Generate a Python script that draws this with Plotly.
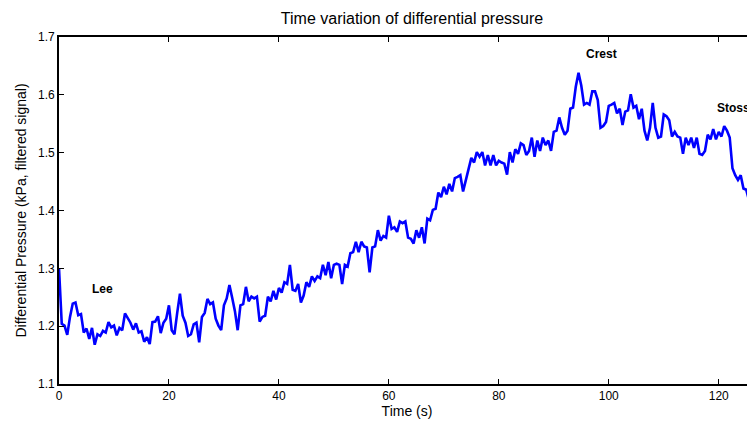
import plotly.graph_objects as go

# Differential pressure (kPa), sampled every 0.5 s starting at t = 0 s
t_start = 0.0
t_step = 0.5
pressure = [
    1.300, 1.204, 1.201, 1.185, 1.216, 1.239, 1.241, 1.219, 1.221, 1.189,
    1.196, 1.178, 1.197, 1.168, 1.186, 1.183, 1.192, 1.189, 1.207, 1.198,
    1.201, 1.184, 1.197, 1.193, 1.222, 1.213, 1.206, 1.194, 1.205, 1.189,
    1.191, 1.173, 1.181, 1.169, 1.207, 1.208, 1.217, 1.188, 1.206, 1.213,
    1.236, 1.193, 1.186, 1.223, 1.256, 1.218, 1.206, 1.183, 1.186, 1.203,
    1.206, 1.172, 1.216, 1.223, 1.247, 1.238, 1.241, 1.213, 1.201, 1.193,
    1.236, 1.248, 1.271, 1.249, 1.226, 1.193, 1.236, 1.238, 1.268, 1.243,
    1.251, 1.248, 1.251, 1.208, 1.216, 1.218, 1.251, 1.243, 1.261, 1.246,
    1.266, 1.258, 1.276, 1.273, 1.306, 1.263, 1.261, 1.273, 1.241, 1.253,
    1.276, 1.268, 1.286, 1.278, 1.286, 1.283, 1.306, 1.288, 1.311, 1.283,
    1.306, 1.308, 1.306, 1.273, 1.306, 1.303, 1.326, 1.328, 1.346, 1.328,
    1.346, 1.338, 1.336, 1.293, 1.336, 1.338, 1.366, 1.348, 1.356, 1.353,
    1.391, 1.368, 1.371, 1.363, 1.381, 1.378, 1.381, 1.353, 1.351, 1.343,
    1.366, 1.353, 1.371, 1.343, 1.386, 1.383, 1.401, 1.403, 1.431, 1.423,
    1.441, 1.428, 1.446, 1.433, 1.456, 1.458, 1.461, 1.433, 1.451, 1.468,
    1.491, 1.483, 1.501, 1.493, 1.501, 1.478, 1.496, 1.478, 1.496, 1.478,
    1.486, 1.483, 1.481, 1.462, 1.501, 1.483, 1.506, 1.498, 1.516, 1.513,
    1.496, 1.503, 1.526, 1.493, 1.521, 1.503, 1.526, 1.513, 1.521, 1.503,
    1.536, 1.538, 1.561, 1.543, 1.531, 1.538, 1.576, 1.578, 1.614, 1.638,
    1.616, 1.583, 1.586, 1.583, 1.606, 1.606, 1.591, 1.543, 1.546, 1.553,
    1.581, 1.583, 1.586, 1.568, 1.576, 1.548, 1.571, 1.573, 1.601, 1.578,
    1.581, 1.558, 1.576, 1.538, 1.521, 1.543, 1.586, 1.543, 1.526, 1.528,
    1.566, 1.563, 1.556, 1.528, 1.536, 1.528, 1.526, 1.498, 1.526, 1.513,
    1.526, 1.508, 1.526, 1.498, 1.496, 1.503, 1.531, 1.523, 1.541, 1.523,
    1.536, 1.528, 1.546, 1.538, 1.526, 1.473, 1.461, 1.453, 1.461, 1.438,
    1.436, 1.418, 1.426, 1.408,
]

label_texts = ["Lee", "Crest", "Stoss"]
label_times = [7.9, 98.6, 122.7]
label_values = [1.264, 1.670, 1.578]

x_ticks = [0, 20, 40, 60, 80, 100, 120]
y_ticks = [1.1, 1.2, 1.3, 1.4, 1.5, 1.6, 1.7]

FONT = "Liberation Sans, Arial, Helvetica, sans-serif"

# the page body adds an 8 px offset; the figure is sized to fill the rest
W, H = 747, 416

fig = go.Figure()
fig.add_trace(go.Scatter(
    x0=t_start, dx=t_step, y=pressure,
    mode="lines",
    line=dict(color="#0000FF", width=2.6),
    showlegend=False,
    hoverinfo="skip",
))

for txt, tx, ty in zip(label_texts, label_times, label_values):
    fig.add_annotation(
        x=tx, y=ty, xref="x", yref="y", text="<b>" + txt + "</b>",
        showarrow=False, font=dict(family=FONT, size=12, color="#000000"),
        xanchor="center", yanchor="middle",
    )

fig.update_layout(
    width=W, height=H,
    margin=dict(l=51, r=0, t=29, b=40),
    paper_bgcolor="white", plot_bgcolor="white",
    font=dict(family=FONT, color="#000000", size=12),
    title=dict(
        text="Time variation of differential pressure",
        font=dict(family=FONT, size=16, color="#000000"),
        xref="container", x=404 / W, xanchor="center",
        yref="container", y=1 - 10 / H, yanchor="middle",
    ),
)

fig.update_xaxes(
    range=[0, 126.6],
    tickvals=x_ticks,
    ticktext=[str(v) for v in x_ticks],
    ticks="inside", ticklen=5, tickwidth=1, tickcolor="#000000",
    showline=True, linecolor="#000000", linewidth=1.6,
    mirror="ticks",
    showgrid=False, zeroline=False,
    tickfont=dict(family=FONT, size=12, color="#000000"),
    title=dict(text="Time (s)", font=dict(family=FONT, size=14, color="#000000"), standoff=4),
)

fig.update_yaxes(
    range=[1.1, 1.7],
    tickvals=y_ticks,
    ticktext=["%.1f" % v for v in y_ticks],
    ticks="inside", ticklen=5, tickwidth=1, tickcolor="#000000",
    showline=True, linecolor="#000000", linewidth=1.6,
    mirror=False,
    showgrid=False, zeroline=False,
    tickfont=dict(family=FONT, size=12, color="#000000"),
    title=dict(text="Differential Pressure (kPa, filtered signal)",
               font=dict(family=FONT, size=14, color="#000000"), standoff=8),
)

fig.write_html("out.html")
